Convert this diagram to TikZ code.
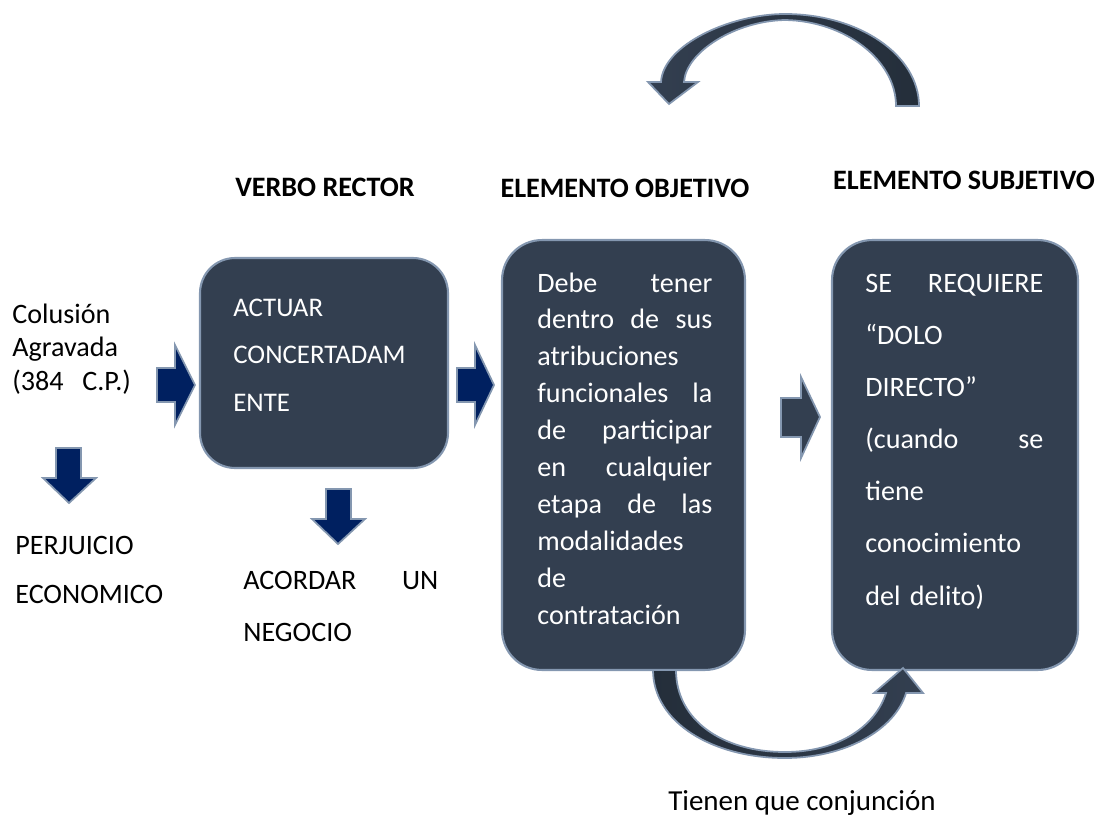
\documentclass[tikz,border=0pt]{standalone}
\usepackage{fontspec}
\setmainfont{Carlito}
\definecolor{slate}{HTML}{333F50}
\definecolor{slatedark}{HTML}{242E3A}
\definecolor{edgeblue}{HTML}{8497B0}
\definecolor{navy}{HTML}{002060}
\tikzset{
  box/.style={draw=edgeblue, fill=slate, line width=1.2pt, rounded corners=0.8cm},
  boxtext/.style={text=white, inner sep=0pt, align=left, anchor=base west},
  plain/.style={inner sep=0pt, align=left, anchor=base west},
  head/.style={inner sep=0pt, anchor=base, font=\fontsize{16}{19}\selectfont\bfseries},
  navyarrow/.style={draw=edgeblue, fill=navy, line width=1pt},
  slatearrow/.style={draw=edgeblue, fill=slate, line width=1pt},
}
\begin{document}
\begin{tikzpicture}[x=0.02cm, y=-0.02cm]
\useasboundingbox (0,0) rectangle (1102,825);

\node[head] (hverbo) at (325,196) {VERBO RECTOR};
\node[head] (hobj) at (625,197) {ELEMENTO OBJETIVO};
\node[head] (hsubj) at (964,189) {ELEMENTO SUBJETIVO};

\node[box, minimum width=4.96cm, minimum height=4.2cm, rounded corners=0.7cm] (verbo) at (324,363) {};
\node[box, minimum width=4.86cm, minimum height=8.6cm] (objetivo) at (623.5,455) {};
\node[box, minimum width=4.92cm, minimum height=8.6cm] (subjetivo) at (955,455) {};

\node[plain, text width=2.8cm, font=\fontsize{16}{19.3}\selectfont] (colusion) at (12,323)
  {Colusión\\Agravada\\(384\ \ C.P.)};
\node[plain, text width=3cm, font=\fontsize{16}{28.4}\selectfont] (perjuicio) at (15,554)
  {PERJUICIO\\ECONOMICO};
\node[plain, text width=3.9cm, font=\fontsize{16}{30}\selectfont] (acordar) at (243,589)
  {ACORDAR\hfill UN\\NEGOCIO};

\node[boxtext, text width=3.6cm, font=\fontsize{15.3}{27.2}\selectfont] (tverbo) at (233,316)
  {ACTUAR\\CONCERTADAM\\ENTE};
\node[boxtext, text width=3.5cm, font=\fontsize{16}{21}\selectfont] (tobj) at (537,292)
  {Debe\hfill tener\\dentro\hfill de\hfill sus\\atribuciones\\funcionales\hfill la\\
   de\hfill participar\\en\hfill cualquier\\etapa\hfill de\hfill las\\modalidades\\de\\contratación};
\node[boxtext, text width=3.56cm, font=\fontsize{16}{29.7}\selectfont] (tsubj) at (865,292)
  {SE\hfill REQUIERE\\“DOLO\\DIRECTO”\\(cuando\hfill se\\tiene\\conocimiento\\del delito)};

\node[plain, anchor=base, font=\fontsize{16.5}{19}\selectfont] (conjuncion) at (802,810)
  {Tienen que conjunción};

% block arrows
\filldraw[navyarrow] (157,368) -- (175,368) -- (175,345) -- (195,385) -- (175,425) -- (175,402) -- (157,402) -- cycle;
\filldraw[navyarrow] (457,368) -- (475,368) -- (475,345) -- (494,385) -- (475,425) -- (475,402) -- (457,402) -- cycle;
\filldraw[slatearrow] (781,398) -- (801,398) -- (801,377) -- (820,417) -- (801,458) -- (801,437) -- (781,437) -- cycle;
\filldraw[navyarrow] (56,448) -- (81,448) -- (81,478) -- (96,478) -- (69,503) -- (43,478) -- (56,478) -- cycle;
\filldraw[navyarrow] (326,489) -- (351,489) -- (351,519) -- (365,519) -- (338,544) -- (312,519) -- (326,519) -- cycle;

% curved arrows
\filldraw[draw=edgeblue, line width=1pt, left color=slate, right color=slatedark]
  (919,106) .. controls (919,55) and (859,14) .. (785,14)
  .. controls (730,14) and (663,45) .. (661,82) -- (648,82) -- (669,104) -- (698,82) -- (684,82)
  .. controls (686,52) and (735,21) .. (785,20)
  .. controls (845,21) and (896,60) .. (896,106) -- cycle;
\filldraw[draw=edgeblue, line width=1pt, left color=slatedark, right color=slate]
  (653,670) .. controls (653,722) and (712,758) .. (785,758)
  .. controls (845,758) and (895,730) .. (906,693) -- (923,693) -- (903,668) -- (874,693) -- (886,693)
  .. controls (876,725) and (840,752) .. (785,752)
  .. controls (722,752) and (676,720) .. (676,670) -- cycle;
\end{tikzpicture}
\end{document}
